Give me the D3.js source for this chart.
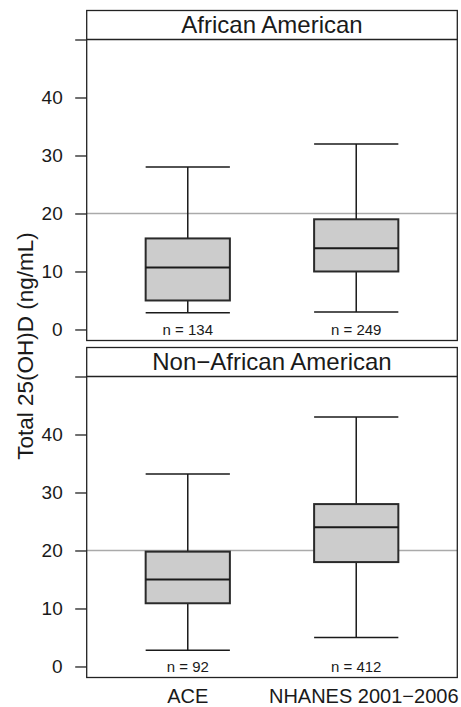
<!DOCTYPE html>
<html>
<head>
<meta charset="utf-8">
<script src="https://cdn.jsdelivr.net/npm/d3@7"></script>
<style>
    body { margin: 0; background: #fff; }
    text { font-family: "Liberation Sans", Arial, Helvetica, sans-serif; fill: #1a1a1a; }
    .panel-border { fill: none; stroke: #222; stroke-width: 1.3; }
    .ref-line { stroke: #aaa; stroke-width: 1.3; }
    .box { fill: #cccccc; stroke: #2a2a2a; stroke-width: 2; }
    .whisker { stroke: #1a1a1a; stroke-width: 1.5; fill: none; }
    .y-axis path { display: none; }
    .y-axis line { stroke: #222; stroke-width: 1.3; }
</style>
</head>
<body>
<svg width="461" height="707"></svg>
<script>

var margin = { top: 10.5, right: 3.7, left: 86.7 }
    , width = 461 - margin.left - margin.right
    , stripHeight = 29
    , panelHeight = 301
    , panelGap = 7;

// categories
var groups = ["ACE", "NHANES 2001\u22122006"];
var panels = ["African American", "Non\u2212African American"];

// box stats per panel, in the order of groups
var whiskerLow = [[2.9, 3.0], [2.8, 5.0]];
var q1 = [[5.0, 10.0], [10.9, 18.0]];
var median = [[10.7, 14.0], [15.0, 24.0]];
var q3 = [[15.7, 19.0], [19.8, 28.0]];
var whiskerHigh = [[28.0, 32.0], [33.2, 43.0]];
var counts = [[134, 249], [92, 412]];

var yTicks = [0, 10, 20, 30, 40, 50];
var refValue = 20;

var x = d3.scalePoint()
    .domain(groups)
    .range([0, width])
    .padding(0.6);

var boxWidth = x.step() * 0.5;

var svg = d3.select("svg");

function drawPanel(p) {
    var top = margin.top + p * (stripHeight + panelHeight + panelGap);

    var g = svg.append("g")
        .attr("class", "panel")
        .attr("transform", "translate(" + margin.left + "," + top + ")");

    var y = d3.scaleLinear()
        .domain([-1.9, 50])
        .range([stripHeight + panelHeight, stripHeight]);

    // strip
    g.append("text")
        .attr("x", width / 2)
        .attr("y", stripHeight / 2)
        .attr("dy", "0.35em")
        .attr("text-anchor", "middle")
        .style("font-size", "24px")
        .text(panels[p]);

    g.append("g")
        .attr("class", "y-axis")
        .call(d3.axisLeft(y)
            .tickValues(yTicks)
            .tickSize(11.5)
            .tickPadding(12.5)
            .tickFormat(function (d) { return d == 50 ? "" : d; }))
        .selectAll("text")
        .style("font-size", "19px")
        .style("font-family", "'Liberation Sans', Arial, sans-serif")
        .attr("fill", "#1a1a1a");

    g.append("line")
        .attr("class", "ref-line")
        .attr("x1", 0)
        .attr("x2", width)
        .attr("y1", y(refValue))
        .attr("y2", y(refValue));

    var boxes = g.selectAll(".boxplot")
        .data(groups)
        .enter()
        .append("g")
        .attr("class", "boxplot");

    // whisker stems
    boxes.append("line")
        .attr("class", "whisker")
        .attr("x1", function (d) { return x(d); })
        .attr("x2", function (d) { return x(d); })
        .attr("y1", function (d, i) { return y(whiskerLow[p][i]); })
        .attr("y2", function (d, i) { return y(whiskerHigh[p][i]); });

    // caps
    [whiskerLow, whiskerHigh].forEach(function (arr) {
        boxes.append("line")
            .attr("class", "whisker")
            .attr("x1", function (d) { return x(d) - boxWidth / 2; })
            .attr("x2", function (d) { return x(d) + boxWidth / 2; })
            .attr("y1", function (d, i) { return y(arr[p][i]); })
            .attr("y2", function (d, i) { return y(arr[p][i]); });
    });

    boxes.append("rect")
        .attr("class", "box")
        .attr("x", function (d) { return x(d) - boxWidth / 2; })
        .attr("width", boxWidth)
        .attr("y", function (d, i) { return y(q3[p][i]); })
        .attr("height", function (d, i) { return y(q1[p][i]) - y(q3[p][i]); });

    boxes.append("line")
        .attr("class", "whisker")
        .style("stroke-width", 2)
        .attr("x1", function (d) { return x(d) - boxWidth / 2; })
        .attr("x2", function (d) { return x(d) + boxWidth / 2; })
        .attr("y1", function (d, i) { return y(median[p][i]); })
        .attr("y2", function (d, i) { return y(median[p][i]); });

    boxes.append("text")
        .attr("x", function (d) { return x(d); })
        .attr("y", y(0) + 5.5)
        .attr("text-anchor", "middle")
        .style("font-size", "15px")
        .text(function (d, i) { return "n = " + counts[p][i]; });

    // strip bottom line
    g.append("line")
        .attr("stroke", "#222")
        .attr("stroke-width", 1.3)
        .attr("x1", 0)
        .attr("x2", width)
        .attr("y1", stripHeight)
        .attr("y2", stripHeight);

    g.append("rect")
        .attr("class", "panel-border")
        .attr("x", 0)
        .attr("y", 0)
        .attr("width", width)
        .attr("height", stripHeight + panelHeight);

    return g;
}

panels.forEach(function (d, i) { drawPanel(i); });

// x labels under the last panel
var bottom = margin.top + 2 * (stripHeight + panelHeight) + panelGap;
svg.append("g")
    .attr("transform", "translate(" + margin.left + "," + bottom + ")")
    .selectAll("text")
    .data(groups)
    .enter()
    .append("text")
    .attr("x", function (d) { return x(d); })
    .attr("dx", function (d, i) { return i == groups.length - 1 ? 7.5 : 0; }) // long label sits a bit right in the original
    .attr("y", 25.5)
    .attr("text-anchor", "middle")
    .style("font-size", "20px")
    .text(function (d) { return d; });

svg.append("text")
    .attr("transform", "translate(33,346) rotate(-90)")
    .attr("text-anchor", "middle")
    .style("font-size", "22.5px")
    .text("Total 25(OH)D (ng/mL)");

</script>
</body>
</html>
